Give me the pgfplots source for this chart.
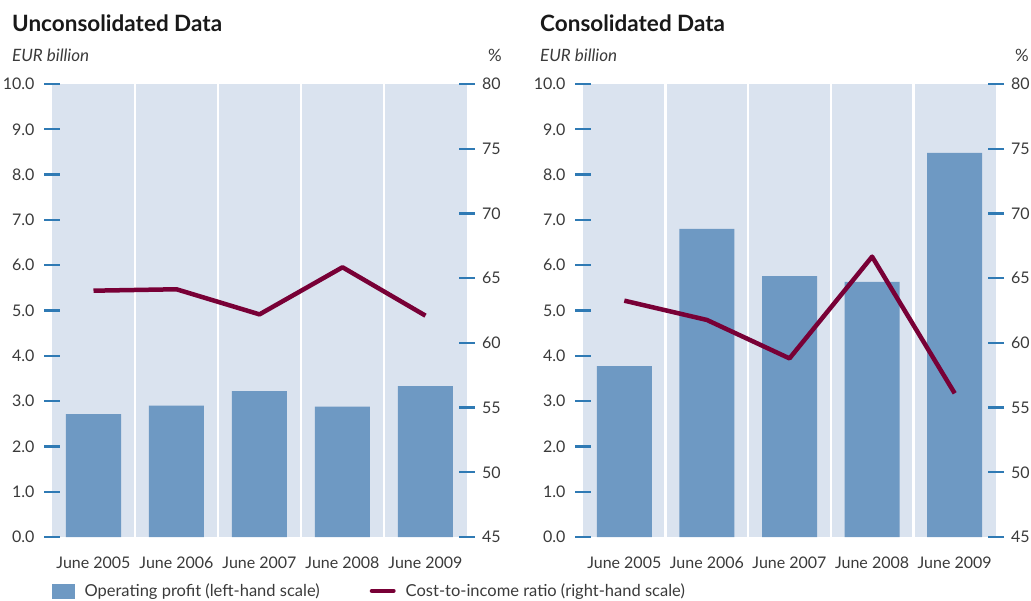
\documentclass[border=0pt]{standalone}
\usepackage{fontspec}
\setmainfont{Lato}
\usepackage{pgfplots}
\pgfplotsset{compat=1.18}
\definecolor{bgblue}{HTML}{DAE3EF}
\definecolor{barblue}{HTML}{6E99C3}
\definecolor{linered}{HTML}{780036}
\definecolor{tickblue}{HTML}{2F7AB4}
\definecolor{txt}{HTML}{3A3A3A}
\pgfplotsset{
  panelbase/.style={scale only axis, height=453pt, xmin=-0.5, xmax=4.5,
    /pgf/number format/assume math mode=true,
    tick label style={font=\fontsize{16}{19}\selectfont, text=txt},
    major tick length=16pt, minor tick length=0pt,
    tick style={tickblue, line width=2.2pt}, tick align=inside,
    axis line style={draw=none}},
  leftax/.style={panelbase, axis x line=bottom, axis y line=left,
    ymin=0, ymax=10, ytick={0,1,...,10},
    yticklabel style={/pgf/number format/fixed, /pgf/number format/fixed zerofill, /pgf/number format/precision=1},
    yticklabel style={xshift=-6pt},
    xtick={0,1,2,3,4},
    xticklabels={June 2005,June 2006,June 2007,June 2008,June 2009},
    xticklabel style={yshift=-8pt},
    x tick style={draw=none},
    minor xtick={0.5,1.5,2.5,3.5}, xminorgrids=true,
    minor grid style={white, line width=2.5pt},
    axis background/.style={fill=bgblue}},
  rightax/.style={panelbase, axis x line=none, axis y line=right,
    ymin=45, ymax=80, ytick={45,50,...,80},
    yticklabel style={xshift=3.5pt}},
}
\begin{document}
\begin{tikzpicture}
\useasboundingbox (0pt,0pt) rectangle (1031pt,600pt);
% Titles
\node[anchor=base west, inner sep=0pt, font=\fontsize{22.5}{26}\selectfont\bfseries, text=black!90] at (12pt,568pt) {Unconsolidated Data};
\node[anchor=base west, inner sep=0pt, font=\fontsize{17}{20}\selectfont\itshape, text=txt] at (12pt,538pt) {EUR billion};
\node[anchor=base east, inner sep=0pt, font=\fontsize{17}{20}\selectfont, text=txt] at (502pt,538pt) {\%};
\node[anchor=base west, inner sep=0pt, font=\fontsize{22.5}{26}\selectfont\bfseries, text=black!90] at (540pt,568pt) {Consolidated Data};
\node[anchor=base west, inner sep=0pt, font=\fontsize{17}{20}\selectfont\itshape, text=txt] at (540pt,538pt) {EUR billion};
\node[anchor=base east, inner sep=0pt, font=\fontsize{17}{20}\selectfont, text=txt] at (1029pt,538pt) {\%};

% Left panel
\begin{axis}[leftax, width=415pt, at={(52pt,63pt)}, anchor=south west]
\addplot[ybar, bar width=55pt, fill=barblue, draw=none] coordinates {(0,2.71) (1,2.90) (2,3.22) (3,2.88) (4,3.33)};
\end{axis}
\begin{axis}[rightax, width=415pt, at={(52pt,63pt)}, anchor=south west,
  legend columns=2,
  legend style={at={(0,-0.119)}, anchor=west, draw=none, fill=none, inner xsep=0pt,
    font=\fontsize{16.5}{20}\selectfont, text=txt,
    /tikz/every odd column/.append style={column sep=8pt},
    /tikz/every even column/.append style={column sep=48pt}}]
\addlegendimage{legend image code/.code={\fill[barblue] (0pt,-7pt) rectangle (22pt,7pt);}}
\addlegendentry{Operating profit (left-hand scale)}
\addplot[linered, line width=4.5pt, line join=round,
  legend image code/.code={\draw[linered, line width=4.5pt, line cap=round] (13.25pt,0pt)--(34.75pt,0pt);}]
  coordinates {(0,64.03) (1,64.14) (2,62.2) (3,65.84) (4,62.1)};
\addlegendentry{Cost-to-income ratio (right-hand scale)}
\end{axis}

% Right panel
\begin{axis}[leftax, width=413pt, at={(583pt,63pt)}, anchor=south west]
\addplot[ybar, bar width=55pt, fill=barblue, draw=none] coordinates {(0,3.77) (1,6.80) (2,5.76) (3,5.63) (4,8.48)};
\end{axis}
\begin{axis}[rightax, width=413pt, at={(583pt,63pt)}, anchor=south west]
\addplot[linered, line width=4.5pt, line join=round]
  coordinates {(0,63.26) (1,61.77) (2,58.8) (3,66.66) (4,56.1)};
\end{axis}
\end{tikzpicture}
\end{document}
